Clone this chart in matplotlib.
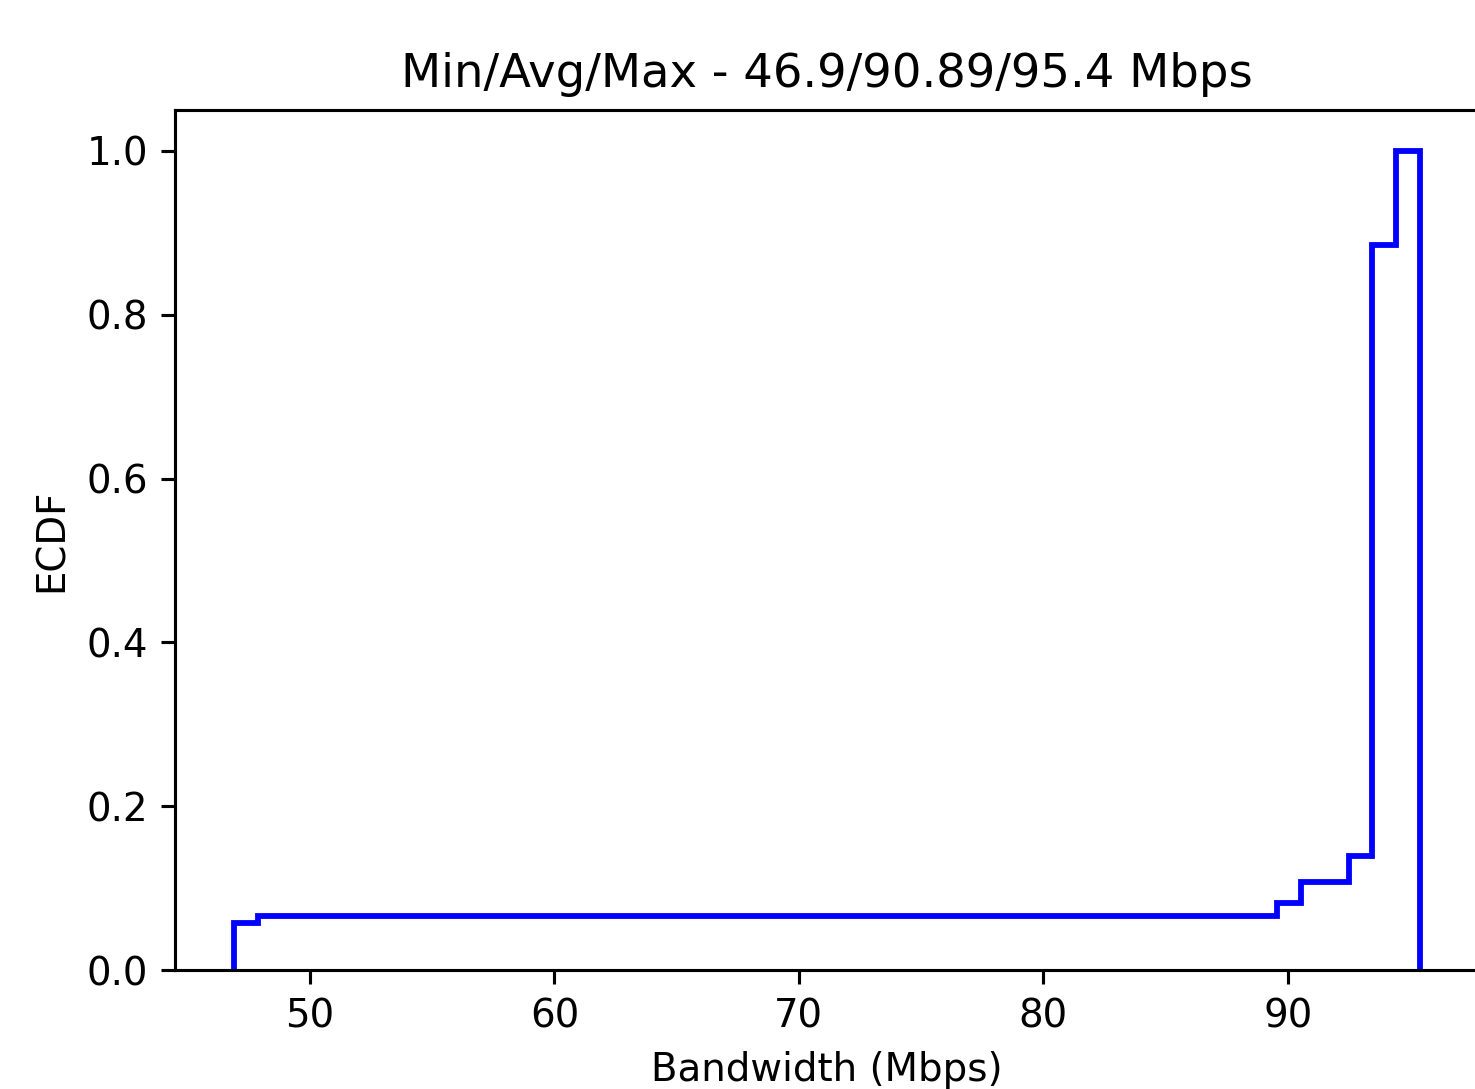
import matplotlib
matplotlib.use("Agg")
import matplotlib.pyplot as plt
import numpy as np

# Step edges (Mbps) and ECDF level of each step
bin_edges = [46.9, 47.87, 89.58, 90.55, 92.49, 93.46, 94.43, 95.4]
ecdf_levels = [0.057, 0.066, 0.082, 0.107, 0.139, 0.885, 1.0]

title_text = "Min/Avg/Max - 46.9/90.89/95.4 Mbps"
x_ticks = [50, 60, 70, 80, 90]
y_ticks = [0.0, 0.2, 0.4, 0.6, 0.8, 1.0]

DPI = 279
fig = plt.figure(figsize=(1475 / DPI, 1089 / DPI), dpi=DPI)
ax = fig.add_axes([175 / 1475, 119 / 1089, (1479 - 175) / 1475, (970 - 110) / 1089])

ax.stairs(ecdf_levels, bin_edges, baseline=0, fill=False, color="blue", linewidth=1.5)

ax.set_xlim(44.475, 97.825)
ax.set_ylim(0, 1.05)
ax.set_xticks(x_ticks)
ax.set_yticks(y_ticks)
ax.set_xlabel("Bandwidth (Mbps)")
ax.set_ylabel("ECDF")
ax.set_title(title_text)

fig.savefig("out.png", dpi=DPI)
